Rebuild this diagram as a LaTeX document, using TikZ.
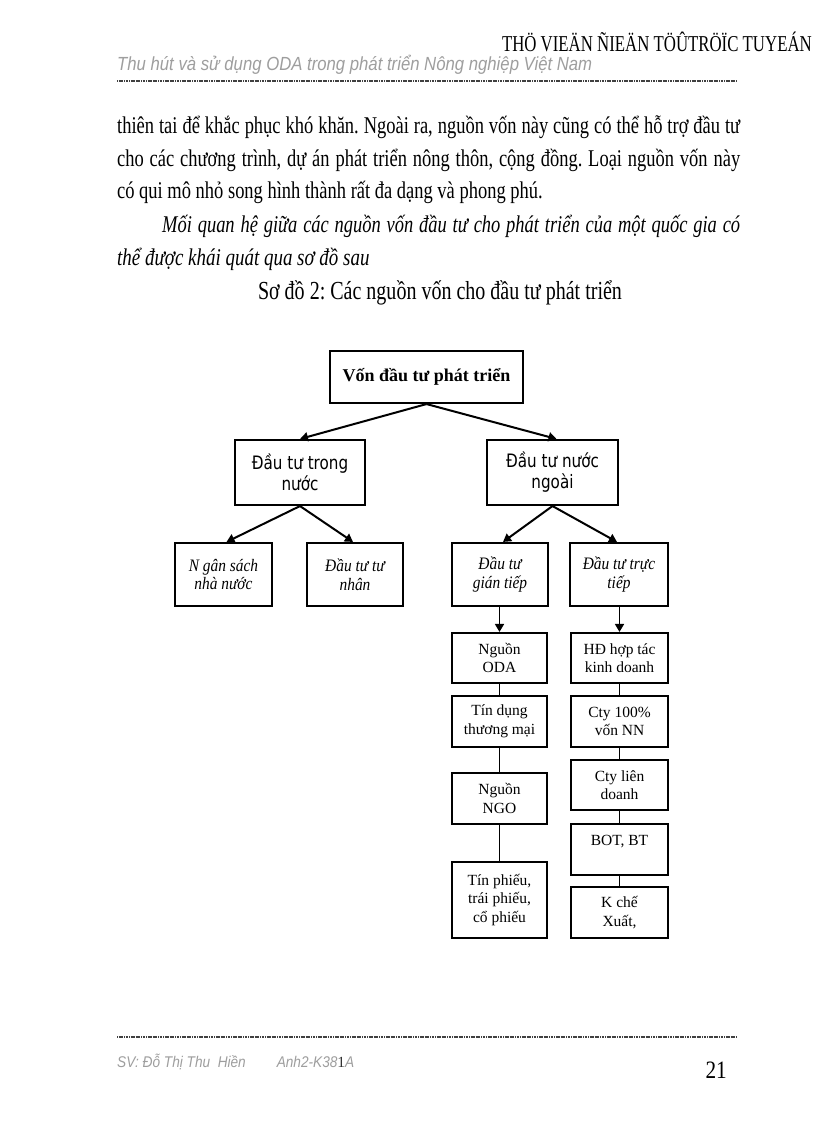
\documentclass[tikz,border=0pt]{standalone}
\usepackage{fontspec}
\setmainfont{Liberation Serif}
\newfontfamily\bodyf[FakeStretch=0.77]{Liberation Serif}
\newfontfamily\bodyitf[FakeStretch=0.79]{Liberation Serif}
\newfontfamily\titlef[FakeStretch=0.74]{Liberation Serif}
\newfontfamily\lthreef[FakeStretch=0.88]{Liberation Serif}
\newfontfamily\pagef[FakeStretch=0.85]{Liberation Serif}
\newfontfamily\hsans[FakeStretch=0.88]{Liberation Sans}
\newfontfamily\dsans[FakeStretch=0.82]{DejaVu Sans}
\usetikzlibrary{arrows.meta}
\frenchspacing
\begin{document}
\begin{tikzpicture}[x=1pt,y=-1pt,
  box/.style={draw,line width=2.1pt,rectangle,inner sep=0pt,align=center},
  conn/.style={line width=1.6pt},
  arr/.style={line width=2pt,-{Triangle[length=8pt,width=9pt]}},
  rulestyle/.style={line width=1.6pt,black!75,dash pattern=on 1.2pt off 0.5pt},
  bodytext/.style={inner sep=0pt,anchor=base west,font=\bodyf\fontsize{24}{33}\selectfont},
  lvtwo/.style={box,font=\dsans\fontsize{18.5}{21}\selectfont,minimum height=65pt},
  lvthree/.style={box,font=\lthreef\itshape\fontsize{17.5}{18.5}\selectfont,minimum height=63pt},
  lvfour/.style={box,font=\fontsize{15.5}{18.5}\selectfont},
  hdr/.style={inner sep=0pt,font=\hsans\itshape\fontsize{19}{20}\selectfont,text=black!38}]
\useasboundingbox[fill=white] (0,0) rectangle (816,1123);

% header
\node[inner sep=0pt,anchor=base east,font=\titlef\fontsize{22.7}{24}\selectfont] (title) at (812,52) {THÖ VIEÄN ÑIEÄN TÖÛTRÖÏC TUYEÁN};
\node[hdr,anchor=base west] (subtitle) at (117,71) {Thu hút và sử dụng ODA trong phát triển Nông nghiệp Việt Nam};
\coordinate (hr1) at (117,81);
\coordinate (hr2) at (737,81);
\draw[rulestyle] (hr1) -- (hr2);

% body text
\node[bodytext] (line1) at (117,134) {\makebox[623pt][s]{thiên tai để khắc phục khó khăn. Ngoài ra, nguồn vốn này cũng có thể hỗ trợ đầu tư}};
\node[bodytext] (line2) at (117,167) {\makebox[623pt][s]{cho các chương trình, dự án phát triển nông thôn, cộng đồng. Loại nguồn vốn này}};
\node[bodytext] (line3) at (117,199) {có qui mô nhỏ song hình thành rất đa dạng và phong phú.};
\node[bodytext] (line4) at (162,233) {\makebox[578pt][s]{\itshape Mối quan hệ giữa các nguồn vốn đầu tư cho phát triển của một quốc gia có}};
\node[bodytext,font=\bodyitf\itshape\fontsize{24}{33}\selectfont] (line5) at (117,265) {thể được khái quát qua sơ đồ sau};
\node[bodytext,anchor=base,font=\bodyf\fontsize{26}{33}\selectfont] (caption) at (440,299) {Sơ đồ 2: Các nguồn vốn cho đầu tư phát triển};

% diagram
\node[box,minimum width=193pt,minimum height=52pt,font=\bfseries\fontsize{18}{20}\selectfont] (top) at (426.5,377) {Vốn đầu tư phát triển};

\node[lvtwo,minimum width=130pt] (dom) at (300,472.5) {Đầu tư trong\\nước};
\node[lvtwo,minimum width=131pt] (for) at (552.5,472.5) {Đầu tư nước\\ngoài};

\node[lvthree,minimum width=97pt] (ngs) at (223.5,574.5) {N gân sách\\nhà nước};
\node[lvthree,minimum width=96pt] (ttn) at (355,574.5) {Đầu tư tư\\nhân};
\node[lvthree,minimum width=96pt] (gt) at (500,574.5) {Đầu tư\\gián tiếp};
\node[lvthree,minimum width=98pt] (tt) at (619,574.5) {Đầu tư trực\\tiếp};

\node[lvfour,minimum width=95pt,minimum height=50pt] (oda) at (499.5,658) {Nguồn\\ODA};
\node[lvfour,minimum width=95pt,minimum height=51pt] (tdtm) at (499.5,721.5) {Tín dụng\\thương mại};
\node[lvfour,minimum width=95pt,minimum height=51pt] (ngo) at (499.5,798.5) {Nguồn\\NGO};
\node[lvfour,minimum width=95pt,minimum height=76pt] (tp) at (499.5,900) {Tín phiếu,\\trái phiếu,\\cổ phiếu};

\node[lvfour,minimum width=97pt,minimum height=50pt] (hd) at (619.5,658) {HĐ hợp tác\\kinh doanh};
\node[lvfour,minimum width=97pt,minimum height=51pt] (cty) at (619.5,721.5) {Cty 100\%\\vốn NN};
\node[lvfour,minimum width=97pt,minimum height=50pt] (ld) at (619.5,785) {Cty liên\\doanh};
\node[lvfour,minimum width=97pt,minimum height=51pt] (bot) at (619.5,849.5) {BOT, BT\\\mbox{}};
\node[lvfour,minimum width=97pt,minimum height=51pt] (kcx) at (619.5,912.5) {K chế\\Xuất,};

\draw[arr] (top.south) -- (dom.north);
\draw[arr] (top.south) -- ([xshift=4pt]for.north);
\draw[arr] (dom.south) -- ([xshift=3pt]ngs.north);
\draw[arr] (dom.south) -- ([xshift=-2pt]ttn.north);
\draw[arr] (for.south) -- ([xshift=3pt]gt.north);
\draw[arr] (for.south) -- ([xshift=-2pt]tt.north);

\draw[arr,line width=1.6pt] (gt.south -| oda.north) -- (oda.north);
\draw[arr,line width=1.6pt] (tt.south -| hd.north) -- (hd.north);
\draw[conn] (oda) -- (tdtm);
\draw[conn] (tdtm) -- (ngo);
\draw[conn] (ngo) -- (tp);
\draw[conn] (hd) -- (cty);
\draw[conn] (cty) -- (ld);
\draw[conn] (ld) -- (bot);
\draw[conn] (bot) -- (kcx);

% footer
\coordinate (fr1) at (117,1037);
\coordinate (fr2) at (737,1037);
\draw[rulestyle] (fr1) -- (fr2);
\node[hdr,anchor=base west,font=\hsans\itshape\fontsize{15.5}{16}\selectfont] (author) at (117,1067) {SV: Đỗ Thị Thu\ \ Hiền\qquad Anh2-K38{\normalfont\color{black!80}1}A};
\node[inner sep=0pt,anchor=base east,font=\pagef\fontsize{25}{26}\selectfont] (pagenum) at (727,1078) {21};
\end{tikzpicture}
\end{document}
